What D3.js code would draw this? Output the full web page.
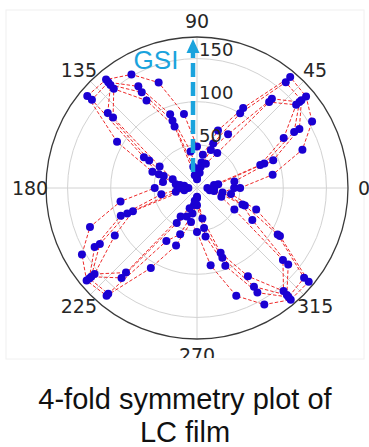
<!DOCTYPE html>
<html><head><meta charset="utf-8">
<script src="https://cdn.jsdelivr.net/npm/d3@7"></script>
<style>body{margin:0;background:#fff}svg{display:block}</style>
</head><body>
<svg id="c" width="369" height="447"></svg>
<script>
const angles = d3.range(0, 360, 10);
const series1 = [50,89,130,154,165,168,107,71,39,48,87,130,152,164,166,107,55,40,49,90,132,154,167,163,107,71,40,51,91,133,156,169,169,111,73,40];
const series2 = [43,44,94,137,158,160,100,55,30,20,43,91,136,160,159,71,47,25,15,42,94,137,163,160,71,57,30,20,57,96,140,165,162,108,59,30];
const series3 = [20,25,83,130,155,135,72,47,25,12,25,83,128,156,135,64,41,20,10,25,86,130,160,136,47,35,20,12,47,86,132,162,138,74,56,20];
const series4 = [12,20,78,116,150,130,47,30,18,10,15,76,117,150,127,50,30,15,20,15,79,110,155,128,38,25,15,10,36,80,118,156,130,50,30,15];
const allSeries = [series1, series2, series3, series4];
const radialTicks = [50, 100, 150];
const angleTicks = [0, 45, 90, 135, 180, 225, 270, 315];
const captionLines = ["4-fold symmetry plot of", "LC film"];
const arrowLabel = "GSI";

const svg = d3.select("#c");
const cx = 197, cy = 188, R = 151;
const r = d3.scaleLinear().domain([0, 175]).range([0, R]);
const a = d3.scaleLinear().domain([0, 360]).range([Math.PI / 2, Math.PI / 2 - 2 * Math.PI]);

svg.append("rect").attr("x", 6).attr("y", 10).attr("width", 358).attr("height", 349)
  .attr("fill", "none").attr("stroke", "#f0f0f0");

const defs = svg.append("defs");
defs.append("clipPath").attr("id", "clipChart").append("rect")
  .attr("x", 0).attr("y", 0).attr("width", 369).attr("height", 358);

const chart = svg.append("g").attr("clip-path", "url(#clipChart)");
const g = chart.append("g").attr("transform", `translate(${cx},${cy})`);

// grid circles
g.selectAll("circle.grid").data(radialTicks).join("circle")
  .attr("r", d => r(d)).attr("fill", "none").attr("stroke", "#d2d2d2").attr("stroke-width", 1);
// spokes
g.selectAll("line.spoke").data(angleTicks).join("line")
  .attr("x1", 0).attr("y1", 0)
  .attr("x2", d => R * Math.sin(a(d))).attr("y2", d => -R * Math.cos(a(d)))
  .attr("stroke", "#d2d2d2").attr("stroke-width", 1);
// outer circle
g.append("circle").attr("r", R).attr("fill", "none").attr("stroke", "#3a3a3a").attr("stroke-width", 1.3);

// angle labels
g.selectAll("text.ang").data(angleTicks).join("text")
  .attr("x", d => 167 * Math.sin(a(d))).attr("y", d => -167 * Math.cos(a(d)))
  .attr("text-anchor", "middle").attr("dominant-baseline", "central")
  .attr("font-family", "DejaVu Sans").attr("font-size", 19).attr("fill", "#262626")
  .text(d => d);

// series
const line = d3.lineRadial().angle((d, i) => a(angles[i])).radius(d => r(d)).curve(d3.curveLinearClosed);
allSeries.forEach(s => {
  g.append("path").attr("d", line(s)).attr("fill", "none")
    .attr("stroke", "#ee2a2a").attr("stroke-width", 1).attr("stroke-dasharray", "3.5,2");
});
allSeries.forEach(s => {
  g.append("g").selectAll("circle").data(s).join("circle")
    .attr("cx", (d, i) => r(d) * Math.sin(a(angles[i])))
    .attr("cy", (d, i) => -r(d) * Math.cos(a(angles[i])))
    .attr("r", 4).attr("fill", "#1a00d2");
});

// radial labels
g.selectAll("text.rad").data(radialTicks).join("text")
  .attr("x", 2).attr("y", d => -r(d) - 3)
  .attr("font-family", "DejaVu Sans").attr("font-size", 18).attr("fill", "#262626")
  .text(d => d);

// GSI arrow
const ax = 193;
svg.append("line").attr("x1", ax).attr("x2", ax).attr("y1", 172).attr("y2", 52)
  .attr("stroke", "#1aa3dd").attr("stroke-width", 4.5).attr("stroke-dasharray", "14,5");
svg.append("path").attr("d", `M${ax - 6.5},53 L${ax},39 L${ax + 6.5},53 Z`).attr("fill", "#1aa3dd");
svg.append("text").attr("x", 156).attr("y", 69).attr("text-anchor", "middle")
  .attr("font-family", "Liberation Sans").attr("font-size", 26).attr("fill", "#1aa3dd")
  .text(arrowLabel);

// caption
svg.selectAll("text.cap").data(captionLines).join("text")
  .attr("x", 185).attr("y", (d, i) => 409 + i * 33).attr("text-anchor", "middle")
  .attr("font-family", "Liberation Sans").attr("font-size", 29).attr("fill", "#111")
  .text(d => d);
</script>
</body></html>
